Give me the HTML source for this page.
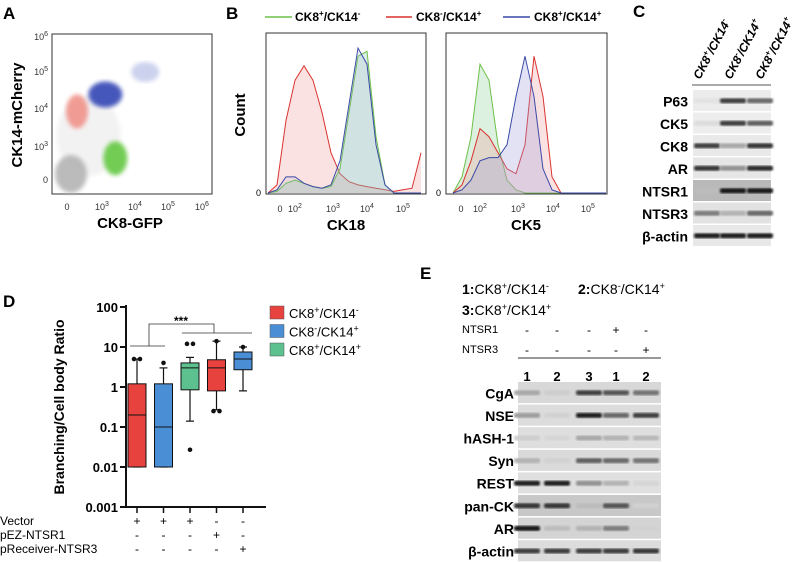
<!DOCTYPE html>
<html><head><meta charset="utf-8"><style>
html,body{margin:0;padding:0;background:#fff}
svg{display:block;font-family:"Liberation Sans",Arial,sans-serif}
</style></head><body>
<svg id="fig" width="792" height="562" viewBox="0 0 792 562" xmlns="http://www.w3.org/2000/svg">
<defs>
<filter id="blur2"><feGaussianBlur stdDeviation="2"/></filter>
<filter id="blur1"><feGaussianBlur stdDeviation="1"/></filter>
</defs>
<text x="3" y="19" font-size="17" font-weight="bold">A</text>
<text x="226" y="19" font-size="17" font-weight="bold">B</text>
<text x="633" y="17" font-size="17" font-weight="bold">C</text>
<text x="3" y="307" font-size="17" font-weight="bold">D</text>
<text x="420" y="279" font-size="17" font-weight="bold">E</text>

<g id="panelA">
<rect x="52" y="34" width="160" height="160" fill="none" stroke="#333" stroke-width="1"/>
<g id="clusters"></g>
<text transform="translate(22,115) rotate(-90)" text-anchor="middle" font-size="15" font-weight="bold">CK14-mCherry</text>
<text x="130" y="228" text-anchor="middle" font-size="15" font-weight="bold">CK8-GFP</text>
<g font-size="9" fill="#333">
<text x="48" y="40" text-anchor="end">10<tspan font-size="7" dy="-4">6</tspan></text>
<text x="48" y="75" text-anchor="end">10<tspan font-size="7" dy="-4">5</tspan></text>
<text x="48" y="112" text-anchor="end">10<tspan font-size="7" dy="-4">4</tspan></text>
<text x="48" y="150" text-anchor="end">10<tspan font-size="7" dy="-4">3</tspan></text>
<text x="48" y="183" text-anchor="end">0</text>
<text x="67" y="210" text-anchor="middle">0</text>
<text x="102" y="210" text-anchor="middle">10<tspan font-size="7" dy="-4">3</tspan></text>
<text x="135" y="210" text-anchor="middle">10<tspan font-size="7" dy="-4">4</tspan></text>
<text x="168" y="210" text-anchor="middle">10<tspan font-size="7" dy="-4">5</tspan></text>
<text x="202" y="210" text-anchor="middle">10<tspan font-size="7" dy="-4">6</tspan></text>
</g>
</g>

<g id="panelB">
<g font-size="12" font-weight="bold">
<line x1="265" y1="17" x2="292" y2="17" stroke="#6cc04a" stroke-width="1.5"/>
<text x="295" y="21">CK8<tspan font-size="8" dy="-5">+</tspan><tspan dy="5">/CK14</tspan><tspan font-size="8" dy="-5">-</tspan></text>
<line x1="386" y1="17" x2="412" y2="17" stroke="#d9322f" stroke-width="1.5"/>
<text x="416" y="21">CK8<tspan font-size="8" dy="-5">-</tspan><tspan dy="5">/CK14</tspan><tspan font-size="8" dy="-5">+</tspan></text>
<line x1="503" y1="17" x2="530" y2="17" stroke="#3a4aa6" stroke-width="1.5"/>
<text x="534" y="21">CK8<tspan font-size="8" dy="-5">+</tspan><tspan dy="5">/CK14</tspan><tspan font-size="8" dy="-5">+</tspan></text>
</g>
<g id="hists"></g>
<rect x="266" y="33" width="160" height="161" fill="none" stroke="#333"/>
<rect x="446" y="33" width="161" height="161" fill="none" stroke="#333"/>
<text transform="translate(245,115) rotate(-90)" text-anchor="middle" font-size="15" font-weight="bold">Count</text>
<text x="261" y="196" text-anchor="end" font-size="9">0</text>
<text x="441" y="196" text-anchor="end" font-size="9">0</text>
<g font-size="9" fill="#333" text-anchor="middle">
<text x="280" y="212">0</text><text x="295" y="212">10<tspan font-size="7" dy="-4">2</tspan></text>
<text x="333" y="212">10<tspan font-size="7" dy="-4">3</tspan></text><text x="367" y="212">10<tspan font-size="7" dy="-4">4</tspan></text>
<text x="403" y="212">10<tspan font-size="7" dy="-4">5</tspan></text>
<text x="461" y="212">0</text><text x="480" y="212">10<tspan font-size="7" dy="-4">2</tspan></text>
<text x="518" y="212">10<tspan font-size="7" dy="-4">3</tspan></text><text x="553" y="212">10<tspan font-size="7" dy="-4">4</tspan></text>
<text x="588" y="212">10<tspan font-size="7" dy="-4">5</tspan></text>
</g>
<text x="346" y="230" text-anchor="middle" font-size="15" font-weight="bold">CK18</text>
<text x="526" y="230" text-anchor="middle" font-size="15" font-weight="bold">CK5</text>
</g>

<g id="panelC">
<g font-size="12" font-weight="bold" font-style="italic">
<text transform="translate(700,80) rotate(-62)">CK8<tspan font-size="8" dy="-5">+</tspan><tspan dy="5">/CK14</tspan><tspan font-size="8" dy="-5">-</tspan></text>
<text transform="translate(731,80) rotate(-62)">CK8<tspan font-size="8" dy="-5">-</tspan><tspan dy="5">/CK14</tspan><tspan font-size="8" dy="-5">+</tspan></text>
<text transform="translate(762,80) rotate(-62)">CK8<tspan font-size="8" dy="-5">+</tspan><tspan dy="5">/CK14</tspan><tspan font-size="8" dy="-5">+</tspan></text>
</g>
<line x1="692" y1="85" x2="771" y2="85" stroke="#555"/>
<g id="blotC"></g>
</g>

<g id="panelD">
<g id="boxes"></g>
<text transform="translate(64,407) rotate(-90)" text-anchor="middle" font-size="14" font-weight="bold">Branching/Cell body Ratio</text>
<g id="legendD" font-size="13"></g>
<g font-size="12">
<text x="0" y="525">Vector</text>
<text x="0" y="539">pEZ-NTSR1</text>
<text x="0" y="553">pReceiver-NTSR3</text>
</g>
<g id="condRows" font-size="12" text-anchor="middle"></g>
</g>

<g id="panelE">
<text x="462" y="294" font-size="14"><tspan font-weight="bold">1:</tspan>CK8<tspan font-size="9" dy="-5">+</tspan><tspan dy="5">/CK14</tspan><tspan font-size="9" dy="-5">-</tspan></text>
<text x="578" y="294" font-size="14"><tspan font-weight="bold">2:</tspan>CK8<tspan font-size="9" dy="-5">-</tspan><tspan dy="5">/CK14</tspan><tspan font-size="9" dy="-5">+</tspan></text>
<text x="462" y="315" font-size="14"><tspan font-weight="bold">3:</tspan>CK8<tspan font-size="9" dy="-5">+</tspan><tspan dy="5">/CK14</tspan><tspan font-size="9" dy="-5">+</tspan></text>
<g font-size="11"><text x="462" y="333">NTSR1</text><text x="462" y="353">NTSR3</text></g>
<g id="condE" font-size="12" text-anchor="middle"></g>
<line x1="518" y1="358" x2="661" y2="358" stroke="#333"/>
<g id="laneNums" font-size="13" font-weight="bold" text-anchor="middle"></g>
<g id="blotE"></g>
</g>
</svg>
<script>
const NS="http://www.w3.org/2000/svg";
function mk(tag,attrs,parent){const e=document.createElementNS(NS,tag);for(const k in attrs)e.setAttribute(k,attrs[k]);parent.appendChild(e);return e;}

// Panel A clusters
const clusterNames=["black","gray","red","blue","green","blue-tail"];
const clusterX=[2.6,0.1,0.25,3.1,3.4,4.3];
const clusterY=[3.3,0.15,3.95,4.4,2.7,5.0];
const clusterSX=[32,16,11,17,12,14];
const clusterSY=[40,19,17,13,17,10];
const clusterColor=["#999","#b8b8b8","#f08d84","#3c50b8","#6ccb4c","#a3aee0"];
const clusterOpacity=[0.12,0.95,0.85,0.95,0.95,0.55];
function ax(v){return v<=0.5?67+v*40:102+(v-3)*33.3;}
function ay(v){return v<=0.5?180-v*40:147-(v-3)*37.5;}
const cg=document.getElementById('clusters');
for(let i=0;i<clusterX.length;i++){
  const e=mk('ellipse',{cx:ax(clusterX[i]),cy:ay(clusterY[i]),rx:clusterSX[i],ry:clusterSY[i],fill:clusterColor[i],opacity:clusterOpacity[i],filter:'url(#blur2)'},cg);
  
  
}

// Panel B histograms
const binsCK18=[1.25,1.5,1.75,2.0,2.25,2.5,2.75,3.0,3.25,3.5,3.75,4.0,4.25,4.5,4.75,5.0,5.25,5.5];
const ck18Red=[0,0.05,0.45,0.7,0.79,0.7,0.5,0.25,0.12,0.07,0.05,0.04,0.03,0.02,0.01,0.02,0.03,0.25];
const ck18Green=[0,0.01,0.06,0.08,0.06,0.04,0.03,0.04,0.15,0.5,0.85,0.88,0.35,0.05,0,0,0,0];
const ck18Blue=[0,0.02,0.1,0.1,0.06,0.04,0.03,0.05,0.2,0.55,0.9,0.8,0.3,0.05,0,0,0,0];
const binsCK5=[1.25,1.5,1.75,2.0,2.25,2.5,2.75,3.0,3.25,3.5,3.75,4.0,4.25,4.5,5.0,5.5];
const ck5Green=[0,0.1,0.35,0.8,0.7,0.3,0.08,0.02,0,0,0,0,0,0,0,0];
const ck5Red=[0,0.05,0.2,0.4,0.35,0.25,0.15,0.12,0.3,0.85,0.6,0.1,0,0,0,0];
const ck5Blue=[0,0.02,0.08,0.2,0.22,0.22,0.3,0.6,0.85,0.6,0.15,0.02,0,0,0,0];
const hg=document.getElementById('hists');
function drawHist(bins,vals,x0,color,fill,name){
  const xs=v=>x0+(v-2)*36, ys=h=>193-h*161;
  let pts=bins.map((b,i)=>[xs(b),ys(vals[i])]);
  pts=pts.filter(p=>p[0]>=267&&!(x0<400&&p[0]>425)||x0>400&&p[0]<=606);
  let d='M'+pts[0][0]+','+193;
  pts.forEach(p=>d+=' L'+p[0].toFixed(1)+','+p[1].toFixed(1));
  const last=pts[pts.length-1];
  const a=mk('path',{d:d+' L'+last[0]+',193 Z',fill:fill,stroke:'none'},hg);
  
  
  const l=mk('path',{d:d.replace(/^M[^L]*L/,'M'),fill:'none',stroke:color,'stroke-width':1},hg);
  
  
}
drawHist(binsCK18,ck18Red,295,'#d9322f','rgba(240,140,140,0.25)','ck18-red');
drawHist(binsCK18,ck18Green,295,'#6cc04a','rgba(140,200,170,0.3)','ck18-green');
drawHist(binsCK18,ck18Blue,295,'#3a4aa6','rgba(150,160,210,0.15)','ck18-blue');
drawHist(binsCK5,ck5Green,480,'#6cc04a','rgba(140,210,150,0.3)','ck5-green');
drawHist(binsCK5,ck5Red,480,'#d9322f','rgba(240,140,140,0.25)','ck5-red');
drawHist(binsCK5,ck5Blue,480,'#3a4aa6','rgba(160,160,220,0.3)','ck5-blue');

function drawBlot(g,labels,intens,bg,x0,x1,y0,rowH,lanesX,labelX,labelSize,prefix){
  labels.forEach((lab,r)=>{
    const y=y0+r*rowH;
    const rr=mk('rect',{x:x0,y:y,width:x1-x0,height:rowH-1.5,fill:bg[r]},g);
    
    
    intens[r].forEach((v,i)=>{
      const c=Math.round(230-v*210);
      const b=mk('rect',{x:lanesX[i]-13,y:y+rowH/2-3,width:26,height:5,rx:2,fill:'rgb('+c+','+c+','+c+')',filter:'url(#blur1)'},g);
      
      
    });
    const t=mk('text',{x:labelX,y:y+rowH/2+5,'text-anchor':'end','font-size':labelSize,'font-weight':'bold'},g);
    t.textContent=lab;
  });
}
const cLabels=["P63","CK5","CK8","AR","NTSR1","NTSR3","β-actin"];
const cIntens=[[0.02,0.8,0.6],[0.05,0.8,0.65],[0.8,0.3,0.85],[0.85,0.4,0.9],[0.2,1,1],[0.5,0.25,0.6],[0.95,0.95,0.95]];
const cBg=["#ececec","#ededed","#e9e9e9","#e6e6e6","#b9b9b9","#e2e2e2","#e8e8e8"];
drawBlot(document.getElementById('blotC'),cLabels,cIntens,cBg,693,771,90,22.5,[707,733,760],688,14,'blot-c');

const eLabels=["CgA","NSE","hASH-1","Syn","REST","pan-CK","AR","β-actin"];
const eIntens=[[0.3,0.12,0.8,0.7,0.55],[0.35,0.1,0.95,0.6,0.8],[0.12,0.08,0.3,0.25,0.22],[0.25,0.1,0.65,0.6,0.55],[0.95,0.95,0.4,0.25,0.08],[0.85,0.85,0.2,0.7,0.1],[1,0.2,0.25,0.5,0.1],[0.8,0.8,0.8,0.8,0.85]];
const eBg=["#d8d8d8","#dcdcdc","#dedede","#dadada","#e0e0e0","#c8c8c8","#d4d4d4","#dcdcdc"];
const eLanes=[527,557,589,616,646];
drawBlot(document.getElementById('blotE'),eLabels,eIntens,eBg,518,661,382,22.6,eLanes,514,14,'blot-e');
const laneLabels=["1","2","3","1","2"];
const ntsr1Row=["-","-","-","+","-"], ntsr3Row=["-","-","-","-","+"];
const ln=document.getElementById('laneNums'), ce=document.getElementById('condE');
eLanes.forEach((x,i)=>{
  mk('text',{x:x,y:381},ln).textContent=laneLabels[i];
  mk('text',{x:x,y:334},ce).textContent=ntsr1Row[i];
  mk('text',{x:x,y:354},ce).textContent=ntsr3Row[i];
});

// Panel D
const groups=["ck8p-ck14n-vector","ck8n-ck14p-vector","ck8p-ck14p-vector","ck8p-ck14n-ntsr1","ck8n-ck14p-ntsr3"];
const q1=[0.01,0.01,0.85,0.8,2.7];
const med=[0.2,0.1,3,3,5];
const q3=[1.2,1.2,4,4.8,7.5];
const whiskLo=[0.01,0.01,0.14,0.27,0.8];
const whiskHi=[5,3,5.5,14,10];
const outliers=[[5,5],[4],[12,12,0.027],[14,0.25,0.25],[10]];
const boxColor=["#e8423f","#4a8fd6","#5dc08f","#e8423f","#4a8fd6"];
const yTicks=[100,10,1,0.1,0.01,0.001];
const yTickLabels=["100","10","1","0.1","0.01","0.001"];
const vectorRow=["+","+","+","-","-"], ntsr1D=["-","-","-","+","-"], ntsr3D=["-","-","-","-","+"];
const legendLabels=[["CK8","+","/CK14","-"],["CK8","-","/CK14","+"],["CK8","+","/CK14","+"]];
const legendColors=["#e8423f","#4a8fd6","#5dc08f"];
const dy=v=>507-(Math.log10(v)+3)*40;
const dx=i=>137+i*26.5;
const bg=document.getElementById('boxes');
const axis=mk('path',{d:'M126,305 L126,507 L266,507',fill:'none',stroke:'#111','stroke-width':2},bg);

yTicks.forEach((t,i)=>{
  mk('line',{x1:120,x2:126,y1:dy(t),y2:dy(t),stroke:'#111','stroke-width':2},bg);
  const tx=mk('text',{x:118,y:dy(t)+5,'text-anchor':'end','font-size':13,'font-weight':'bold'},bg);
  tx.textContent=yTickLabels[i];
  
  
});
groups.forEach((g,i)=>{
  const x=dx(i),w=18;
  mk('line',{x1:x,x2:x,y1:507,y2:513,stroke:'#111','stroke-width':1.5},bg);
  mk('line',{x1:x,x2:x,y1:dy(whiskHi[i]),y2:dy(whiskLo[i]),stroke:'#111','stroke-width':1.2},bg);
  mk('line',{x1:x-4,x2:x+4,y1:dy(whiskHi[i]),y2:dy(whiskHi[i]),stroke:'#111','stroke-width':1.2},bg);
  mk('line',{x1:x-4,x2:x+4,y1:dy(whiskLo[i]),y2:dy(whiskLo[i]),stroke:'#111','stroke-width':1.2},bg);
  const b=mk('rect',{x:x-w/2,y:dy(q3[i]),width:w,height:dy(q1[i])-dy(q3[i]),fill:boxColor[i],stroke:'#111','stroke-width':1},bg);
  
  
  mk('line',{x1:x-w/2,x2:x+w/2,y1:dy(med[i]),y2:dy(med[i]),stroke:'#111','stroke-width':1},bg);
  outliers[i].forEach((o,k)=>{
    const same=outliers[i].filter(v=>v===o).length>1;
    const off=same?(outliers[i].indexOf(o)===k?-3:3):0;
    const c=mk('circle',{cx:x+off,cy:dy(o),r:2.3,fill:'#111'},bg);
    
    
  });
});
mk('path',{d:'M130,346 L165,346 M149,346 L149,324 L214,324 L214,333 M182,333 L252,333',fill:'none',stroke:'#333','stroke-width':0.8},bg);
const st=mk('text',{x:181,y:325,'text-anchor':'middle','font-size':12,'font-weight':'bold'},bg);st.textContent='***';

const lg=document.getElementById('legendD');
legendLabels.forEach((l,i)=>{
  const y=306+i*18.5;
  const r=mk('rect',{x:270,y:y,width:14,height:13,fill:legendColors[i],stroke:'#555','stroke-width':0.5},lg);
  
  const t=mk('text',{x:289,y:y+12},lg);
  
  t.innerHTML=l[0]+'<tspan font-size="9" dy="-5">'+l[1]+'</tspan><tspan dy="5">'+l[2]+'</tspan><tspan font-size="9" dy="-5">'+l[3]+'</tspan>';
});
const cr=document.getElementById('condRows');
groups.forEach((g,i)=>{
  mk('text',{x:dx(i),y:525},cr).textContent=vectorRow[i];
  mk('text',{x:dx(i),y:539},cr).textContent=ntsr1D[i];
  mk('text',{x:dx(i),y:553},cr).textContent=ntsr3D[i];
});
</script>
</body></html>
